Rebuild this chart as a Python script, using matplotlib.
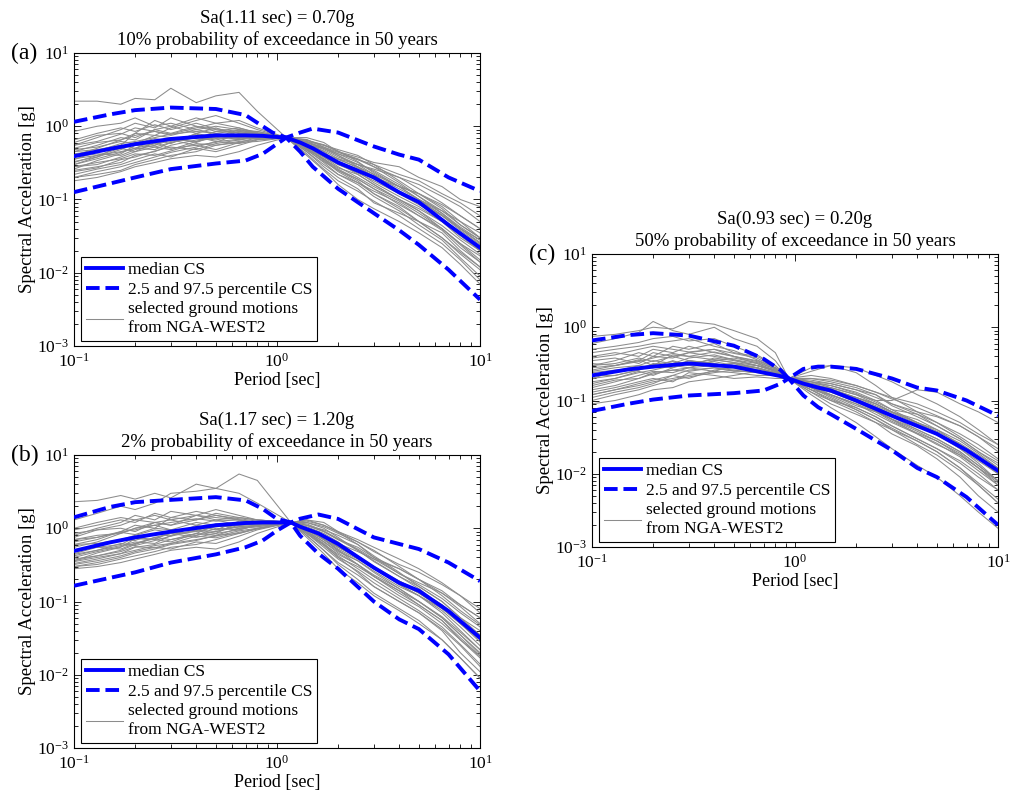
import numpy as np
import matplotlib
matplotlib.use("Agg")
import matplotlib.pyplot as plt
from matplotlib.ticker import LogLocator, NullFormatter

plt.rcParams['font.family'] = ['Liberation Serif', 'DejaVu Serif']
plt.rcParams['mathtext.fontset'] = 'custom'
plt.rcParams['mathtext.rm'] = 'Liberation Serif'
plt.rcParams['mathtext.it'] = 'Liberation Serif:italic'

# ---------------- panel (a) ----------------
per_a = [0.1, 0.13, 0.17, 0.2, 0.25, 0.3, 0.4, 0.5, 0.65, 0.8, 1.11,
         1.4, 1.7, 2, 2.5, 3, 4, 5, 6.5, 8, 10]
cs_T_a = [0.1, 0.15, 0.2, 0.3, 0.5, 0.7, 0.85, 0.95, 1.11, 1.3, 1.5, 2, 3, 4, 5, 7, 10]
med_a = [0.39, 0.49, 0.57, 0.67, 0.75, 0.75, 0.74, 0.72, 0.70, 0.6, 0.5, 0.32, 0.2, 0.125, 0.092, 0.045, 0.022]
hi_a = [1.15, 1.45, 1.66, 1.8, 1.72, 1.42, 1.0, 0.82, 0.70, 0.82, 0.93, 0.82, 0.53, 0.41, 0.35, 0.2, 0.13]
lo_a = [0.126, 0.165, 0.2, 0.26, 0.31, 0.34, 0.42, 0.52, 0.70, 0.45, 0.28, 0.14, 0.065, 0.038, 0.024, 0.011, 0.0043]
gm_a = [
    [2.2, 2.2, 2.0, 2.4, 2.3, 3.3, 2.1, 2.6, 2.9, 1.6, 0.70, 0.62, 0.50, 0.40, 0.30, 0.22, 0.15, 0.10, 0.07, 0.05, 0.03],
    [0.30, 0.38, 0.55, 0.80, 1.2, 1.0, 1.3, 1.1, 1.2, 0.95, 0.70, 0.60, 0.50, 0.42, 0.35, 0.30, 0.22, 0.18, 0.12, 0.09, 0.06],
    [0.25, 0.28, 0.32, 0.40, 0.45, 0.55, 0.65, 0.70, 0.85, 0.80, 0.70, 0.50, 0.35, 0.25, 0.18, 0.12, 0.08, 0.05, 0.03, 0.018, 0.011],
    [0.45, 0.55, 0.70, 0.65, 0.90, 0.80, 1.0, 0.90, 0.80, 0.85, 0.70, 0.65, 0.55, 0.45, 0.38, 0.32, 0.28, 0.20, 0.15, 0.10, 0.08],
    [0.20, 0.22, 0.25, 0.30, 0.35, 0.40, 0.45, 0.55, 0.60, 0.70, 0.70, 0.45, 0.28, 0.20, 0.14, 0.09, 0.065, 0.05, 0.035, 0.02, 0.012],
    [0.55, 0.70, 0.90, 1.1, 0.95, 1.3, 1.0, 0.85, 0.95, 0.80, 0.70, 0.58, 0.45, 0.32, 0.22, 0.16, 0.10, 0.07, 0.04, 0.025, 0.015],
    [0.35, 0.45, 0.50, 0.60, 0.55, 0.70, 0.60, 0.75, 0.65, 0.75, 0.70, 0.52, 0.40, 0.35, 0.28, 0.20, 0.15, 0.12, 0.08, 0.05, 0.035],
    [0.28, 0.30, 0.38, 0.45, 0.60, 0.50, 0.55, 0.48, 0.60, 0.62, 0.70, 0.60, 0.48, 0.38, 0.30, 0.25, 0.16, 0.11, 0.065, 0.04, 0.025],
    [0.40, 0.50, 0.65, 0.80, 0.75, 0.95, 1.2, 1.4, 1.1, 0.90, 0.70, 0.48, 0.32, 0.22, 0.16, 0.11, 0.07, 0.045, 0.028, 0.016, 0.009],
    [0.22, 0.26, 0.30, 0.35, 0.42, 0.38, 0.50, 0.45, 0.55, 0.65, 0.70, 0.55, 0.42, 0.36, 0.30, 0.26, 0.20, 0.14, 0.09, 0.06, 0.04],
    [0.50, 0.60, 0.65, 0.75, 0.85, 0.75, 0.90, 0.80, 0.70, 0.75, 0.70, 0.40, 0.25, 0.16, 0.10, 0.075, 0.05, 0.035, 0.022, 0.013, 0.007],
    [0.32, 0.40, 0.45, 0.50, 0.48, 0.60, 0.70, 0.65, 0.75, 0.72, 0.70, 0.62, 0.55, 0.48, 0.40, 0.30, 0.18, 0.12, 0.075, 0.045, 0.03],
    [0.85, 1.0, 1.1, 1.3, 1.0, 1.1, 0.90, 1.0, 0.90, 0.80, 0.70, 0.50, 0.38, 0.28, 0.20, 0.15, 0.10, 0.075, 0.05, 0.03, 0.02],
    [0.18, 0.20, 0.24, 0.28, 0.32, 0.36, 0.40, 0.38, 0.45, 0.55, 0.70, 0.70, 0.60, 0.45, 0.35, 0.28, 0.20, 0.16, 0.11, 0.08, 0.05],
    [0.38, 0.42, 0.40, 0.48, 0.55, 0.65, 0.55, 0.60, 0.80, 0.78, 0.70, 0.45, 0.30, 0.22, 0.17, 0.13, 0.09, 0.06, 0.04, 0.025, 0.017],
    [0.60, 0.75, 0.80, 0.70, 0.90, 1.0, 0.80, 0.95, 0.75, 0.72, 0.70, 0.55, 0.50, 0.40, 0.28, 0.22, 0.12, 0.085, 0.055, 0.035, 0.02],
    [0.26, 0.34, 0.42, 0.55, 0.52, 0.48, 0.62, 0.75, 0.70, 0.68, 0.70, 0.52, 0.38, 0.30, 0.24, 0.17, 0.11, 0.08, 0.05, 0.032, 0.02],
    [0.45, 0.48, 0.55, 0.50, 0.65, 0.58, 0.80, 0.70, 0.90, 0.85, 0.70, 0.48, 0.36, 0.26, 0.19, 0.14, 0.085, 0.06, 0.038, 0.022, 0.014],
    [0.30, 0.36, 0.44, 0.50, 0.58, 0.66, 0.62, 0.70, 0.68, 0.72, 0.70, 0.58, 0.46, 0.36, 0.27, 0.21, 0.14, 0.10, 0.065, 0.042, 0.028],
    [0.42, 0.46, 0.58, 0.62, 0.70, 0.78, 0.85, 0.80, 0.88, 0.80, 0.70, 0.50, 0.34, 0.24, 0.17, 0.12, 0.075, 0.05, 0.03, 0.019, 0.012],
    [0.24, 0.27, 0.35, 0.38, 0.46, 0.52, 0.48, 0.58, 0.65, 0.70, 0.70, 0.66, 0.52, 0.42, 0.32, 0.24, 0.15, 0.10, 0.06, 0.038, 0.024],
    [0.55, 0.62, 0.78, 0.95, 0.85, 0.78, 0.95, 1.1, 0.95, 0.82, 0.70, 0.54, 0.42, 0.33, 0.26, 0.19, 0.13, 0.095, 0.062, 0.04, 0.026],
    [0.33, 0.38, 0.48, 0.58, 0.68, 0.62, 0.78, 0.68, 0.72, 0.70, 0.70, 0.42, 0.26, 0.18, 0.13, 0.095, 0.06, 0.04, 0.025, 0.015, 0.008],
    [0.20, 0.24, 0.28, 0.32, 0.38, 0.44, 0.52, 0.62, 0.58, 0.66, 0.70, 0.60, 0.52, 0.44, 0.36, 0.28, 0.17, 0.11, 0.07, 0.045, 0.03],
    [0.48, 0.52, 0.62, 0.58, 0.75, 0.70, 0.68, 0.85, 0.82, 0.76, 0.70, 0.56, 0.40, 0.30, 0.23, 0.18, 0.12, 0.09, 0.06, 0.04, 0.028],
    [0.36, 0.40, 0.50, 0.45, 0.52, 0.60, 0.72, 0.62, 0.66, 0.74, 0.70, 0.50, 0.36, 0.27, 0.22, 0.16, 0.10, 0.07, 0.044, 0.028, 0.018],
    [0.65, 0.80, 0.95, 0.85, 1.05, 0.90, 1.1, 0.92, 0.85, 0.78, 0.70, 0.47, 0.33, 0.25, 0.19, 0.14, 0.095, 0.065, 0.04, 0.024, 0.014],
    [0.28, 0.32, 0.36, 0.42, 0.40, 0.46, 0.58, 0.55, 0.62, 0.66, 0.70, 0.64, 0.56, 0.46, 0.33, 0.23, 0.15, 0.12, 0.085, 0.06, 0.04],
]

# ---------------- panel (b) ----------------
per_b = [0.1, 0.13, 0.17, 0.2, 0.25, 0.3, 0.4, 0.5, 0.65, 0.8, 1.17,
         1.4, 1.7, 2, 2.5, 3, 4, 5, 6.5, 8, 10]
cs_T_b = [0.1, 0.15, 0.2, 0.3, 0.5, 0.7, 0.85, 1.0, 1.17, 1.3, 1.6, 2, 3, 4, 5, 7, 10]
med_b = [0.49, 0.64, 0.75, 0.9, 1.1, 1.18, 1.2, 1.2, 1.2, 1.05, 0.85, 0.61, 0.29, 0.18, 0.14, 0.074, 0.032]
hi_b = [1.41, 1.95, 2.27, 2.44, 2.66, 2.4, 1.84, 1.34, 1.2, 1.35, 1.54, 1.34, 0.75, 0.61, 0.52, 0.34, 0.19]
lo_b = [0.164, 0.21, 0.25, 0.34, 0.44, 0.55, 0.68, 0.93, 1.2, 0.79, 0.45, 0.28, 0.10, 0.057, 0.042, 0.019, 0.006]
gm_b = [
    [2.3, 2.4, 2.8, 2.5, 3.0, 2.6, 4.0, 3.5, 5.5, 4.5, 1.2, 1.1, 0.9, 0.7, 0.5, 0.35, 0.22, 0.16, 0.10, 0.06, 0.035],
    [1.3, 1.6, 2.0, 1.8, 2.2, 3.0, 3.2, 3.5, 3.0, 2.2, 1.2, 1.0, 0.75, 0.55, 0.40, 0.28, 0.17, 0.12, 0.07, 0.04, 0.022],
    [0.35, 0.40, 0.45, 0.55, 0.60, 0.70, 0.80, 0.90, 1.1, 1.2, 1.2, 0.90, 0.60, 0.40, 0.25, 0.16, 0.10, 0.07, 0.04, 0.02, 0.011],
    [0.60, 0.70, 0.90, 1.1, 1.0, 1.4, 1.3, 1.6, 1.4, 1.3, 1.2, 1.3, 1.1, 0.90, 0.70, 0.55, 0.38, 0.28, 0.18, 0.12, 0.08],
    [0.30, 0.32, 0.38, 0.42, 0.48, 0.55, 0.60, 0.70, 0.85, 1.0, 1.2, 0.80, 0.50, 0.32, 0.20, 0.13, 0.08, 0.055, 0.03, 0.017, 0.009],
    [0.80, 1.0, 1.2, 1.5, 1.3, 1.7, 1.5, 1.3, 1.4, 1.3, 1.2, 1.0, 0.70, 0.50, 0.32, 0.22, 0.14, 0.10, 0.06, 0.035, 0.02],
    [0.45, 0.55, 0.60, 0.75, 0.70, 0.90, 0.80, 1.0, 0.95, 1.1, 1.2, 1.1, 0.90, 0.70, 0.55, 0.40, 0.28, 0.20, 0.14, 0.09, 0.06],
    [0.38, 0.42, 0.50, 0.60, 0.75, 0.70, 0.85, 0.80, 1.0, 1.05, 1.2, 1.2, 1.0, 0.75, 0.50, 0.36, 0.22, 0.15, 0.085, 0.05, 0.028],
    [0.55, 0.65, 0.85, 1.0, 1.2, 1.1, 1.5, 1.8, 1.5, 1.3, 1.2, 0.85, 0.55, 0.38, 0.26, 0.18, 0.11, 0.075, 0.045, 0.026, 0.014],
    [0.32, 0.36, 0.42, 0.48, 0.55, 0.52, 0.65, 0.62, 0.78, 0.95, 1.2, 1.0, 0.80, 0.62, 0.48, 0.38, 0.28, 0.20, 0.13, 0.085, 0.05],
    [0.70, 0.80, 0.85, 1.0, 1.1, 0.95, 1.2, 1.1, 1.0, 1.1, 1.2, 0.75, 0.45, 0.28, 0.18, 0.12, 0.075, 0.05, 0.03, 0.017, 0.009],
    [0.42, 0.50, 0.58, 0.65, 0.62, 0.80, 0.95, 0.90, 1.05, 1.1, 1.2, 1.1, 0.95, 0.80, 0.60, 0.42, 0.25, 0.16, 0.10, 0.06, 0.04],
    [0.95, 1.1, 1.3, 1.2, 1.6, 1.4, 1.7, 1.5, 1.3, 1.2, 1.2, 0.95, 0.70, 0.50, 0.36, 0.26, 0.16, 0.12, 0.08, 0.05, 0.03],
    [0.28, 0.30, 0.34, 0.38, 0.44, 0.50, 0.55, 0.52, 0.65, 0.85, 1.2, 1.3, 1.2, 0.90, 0.65, 0.48, 0.32, 0.25, 0.17, 0.12, 0.07],
    [0.50, 0.55, 0.52, 0.62, 0.72, 0.85, 0.75, 0.85, 1.2, 1.15, 1.2, 0.85, 0.58, 0.40, 0.30, 0.22, 0.14, 0.09, 0.055, 0.03, 0.018],
    [0.75, 0.95, 1.0, 0.90, 1.2, 1.3, 1.1, 1.3, 1.1, 1.15, 1.2, 1.05, 0.85, 0.65, 0.42, 0.30, 0.17, 0.12, 0.075, 0.045, 0.025],
    [0.36, 0.46, 0.55, 0.72, 0.70, 0.65, 0.85, 1.1, 1.0, 1.05, 1.2, 0.95, 0.70, 0.55, 0.40, 0.28, 0.18, 0.13, 0.08, 0.05, 0.03],
    [0.60, 0.62, 0.70, 0.68, 0.85, 0.78, 1.1, 0.95, 1.25, 1.2, 1.2, 0.90, 0.65, 0.46, 0.32, 0.22, 0.13, 0.09, 0.055, 0.032, 0.018],
    [0.40, 0.48, 0.56, 0.62, 0.75, 0.85, 0.90, 1.05, 1.1, 1.15, 1.2, 1.0, 0.78, 0.56, 0.40, 0.30, 0.19, 0.14, 0.09, 0.055, 0.033],
    [0.65, 0.75, 0.90, 0.95, 1.1, 1.2, 1.35, 1.25, 1.3, 1.2, 1.2, 0.88, 0.62, 0.42, 0.28, 0.20, 0.12, 0.085, 0.05, 0.03, 0.017],
    [0.33, 0.38, 0.45, 0.50, 0.58, 0.62, 0.70, 0.78, 0.92, 1.0, 1.2, 1.15, 0.92, 0.72, 0.52, 0.38, 0.24, 0.17, 0.11, 0.07, 0.045],
    [0.85, 0.95, 1.1, 1.3, 1.2, 1.1, 1.3, 1.5, 1.35, 1.25, 1.2, 0.98, 0.76, 0.56, 0.40, 0.29, 0.19, 0.14, 0.09, 0.056, 0.034],
    [0.48, 0.58, 0.70, 0.80, 0.95, 0.88, 1.05, 0.95, 1.05, 1.1, 1.2, 0.80, 0.50, 0.34, 0.23, 0.16, 0.10, 0.07, 0.042, 0.025, 0.013],
    [0.30, 0.34, 0.40, 0.46, 0.52, 0.60, 0.68, 0.80, 0.85, 0.98, 1.2, 1.2, 1.05, 0.85, 0.65, 0.50, 0.30, 0.20, 0.12, 0.075, 0.048],
    [0.70, 0.75, 0.88, 0.82, 1.0, 0.95, 0.92, 1.15, 1.1, 1.15, 1.2, 0.95, 0.72, 0.52, 0.38, 0.28, 0.18, 0.13, 0.085, 0.055, 0.035],
    [0.44, 0.50, 0.62, 0.58, 0.68, 0.78, 0.92, 0.85, 0.95, 1.1, 1.2, 0.92, 0.66, 0.48, 0.36, 0.25, 0.15, 0.10, 0.062, 0.038, 0.022],
    [1.0, 1.2, 1.4, 1.3, 1.5, 1.3, 1.5, 1.4, 1.3, 1.2, 1.2, 0.85, 0.60, 0.44, 0.32, 0.23, 0.15, 0.10, 0.06, 0.035, 0.019],
    [0.36, 0.42, 0.48, 0.56, 0.54, 0.62, 0.78, 0.74, 0.88, 0.98, 1.2, 1.25, 1.1, 0.88, 0.60, 0.40, 0.24, 0.18, 0.13, 0.09, 0.06],
]

# ---------------- panel (c) ----------------
per_c = [0.1, 0.13, 0.17, 0.2, 0.25, 0.3, 0.4, 0.5, 0.65, 0.8, 0.93,
         1.2, 1.5, 2, 2.5, 3, 4, 5, 6.5, 8, 10]
cs_T_c = [0.1, 0.15, 0.2, 0.3, 0.5, 0.7, 0.85, 0.93, 1.1, 1.3, 1.5, 2, 3, 4, 5, 7, 10]
med_c = [0.22, 0.265, 0.29, 0.32, 0.29, 0.24, 0.215, 0.20, 0.17, 0.15, 0.137, 0.10, 0.062, 0.045, 0.035, 0.021, 0.011]
hi_c = [0.66, 0.78, 0.83, 0.77, 0.56, 0.37, 0.26, 0.20, 0.27, 0.29, 0.29, 0.27, 0.2, 0.15, 0.137, 0.1, 0.062]
lo_c = [0.072, 0.09, 0.103, 0.117, 0.126, 0.137, 0.17, 0.20, 0.117, 0.081, 0.065, 0.041, 0.021, 0.012, 0.009, 0.0048, 0.0020]
gm_c = [
    [0.75, 0.80, 0.90, 1.0, 0.95, 1.2, 1.1, 0.90, 0.70, 0.45, 0.20, 0.25, 0.30, 0.28, 0.22, 0.18, 0.12, 0.09, 0.06, 0.04, 0.025],
    [0.60, 0.70, 0.85, 1.2, 0.90, 0.80, 1.0, 0.70, 0.55, 0.35, 0.20, 0.18, 0.15, 0.12, 0.10, 0.10, 0.14, 0.13, 0.09, 0.07, 0.05],
    [0.12, 0.14, 0.16, 0.18, 0.20, 0.22, 0.25, 0.24, 0.22, 0.22, 0.20, 0.12, 0.08, 0.05, 0.032, 0.022, 0.013, 0.009, 0.005, 0.003, 0.0018],
    [0.30, 0.35, 0.45, 0.40, 0.55, 0.50, 0.60, 0.45, 0.40, 0.30, 0.20, 0.20, 0.18, 0.15, 0.12, 0.085, 0.06, 0.045, 0.03, 0.02, 0.014],
    [0.09, 0.10, 0.12, 0.14, 0.15, 0.18, 0.20, 0.22, 0.25, 0.24, 0.20, 0.28, 0.30, 0.24, 0.16, 0.11, 0.07, 0.05, 0.032, 0.022, 0.015],
    [0.40, 0.45, 0.40, 0.50, 0.45, 0.55, 0.45, 0.40, 0.32, 0.25, 0.20, 0.15, 0.11, 0.075, 0.055, 0.040, 0.028, 0.020, 0.012, 0.007, 0.004],
    [0.20, 0.25, 0.30, 0.28, 0.35, 0.30, 0.38, 0.35, 0.30, 0.26, 0.20, 0.17, 0.14, 0.11, 0.09, 0.07, 0.05, 0.04, 0.028, 0.019, 0.012],
    [0.15, 0.18, 0.22, 0.25, 0.24, 0.28, 0.25, 0.30, 0.28, 0.24, 0.20, 0.14, 0.12, 0.09, 0.065, 0.05, 0.035, 0.025, 0.018, 0.012, 0.007],
    [0.28, 0.30, 0.35, 0.45, 0.40, 0.35, 0.32, 0.28, 0.25, 0.22, 0.20, 0.22, 0.20, 0.16, 0.13, 0.11, 0.09, 0.07, 0.05, 0.035, 0.025],
    [0.11, 0.13, 0.15, 0.17, 0.22, 0.20, 0.26, 0.28, 0.30, 0.25, 0.20, 0.13, 0.09, 0.065, 0.05, 0.035, 0.024, 0.016, 0.009, 0.005, 0.003],
    [0.35, 0.38, 0.32, 0.40, 0.38, 0.45, 0.50, 0.40, 0.35, 0.28, 0.20, 0.16, 0.12, 0.085, 0.07, 0.055, 0.035, 0.026, 0.017, 0.011, 0.007],
    [0.18, 0.20, 0.25, 0.22, 0.28, 0.35, 0.30, 0.32, 0.26, 0.22, 0.20, 0.18, 0.16, 0.13, 0.10, 0.075, 0.065, 0.045, 0.03, 0.02, 0.013],
    [0.25, 0.28, 0.30, 0.35, 0.32, 0.38, 0.42, 0.36, 0.30, 0.26, 0.20, 0.15, 0.13, 0.10, 0.08, 0.06, 0.04, 0.03, 0.02, 0.013, 0.008],
    [0.13, 0.15, 0.18, 0.20, 0.18, 0.24, 0.22, 0.20, 0.21, 0.20, 0.20, 0.19, 0.17, 0.14, 0.12, 0.09, 0.07, 0.06, 0.045, 0.032, 0.02],
    [0.22, 0.22, 0.26, 0.32, 0.30, 0.28, 0.35, 0.38, 0.33, 0.27, 0.20, 0.14, 0.10, 0.07, 0.05, 0.04, 0.025, 0.018, 0.011, 0.007, 0.004],
    [0.45, 0.50, 0.55, 0.60, 0.65, 0.70, 0.55, 0.48, 0.36, 0.28, 0.20, 0.17, 0.14, 0.10, 0.075, 0.055, 0.038, 0.028, 0.018, 0.012, 0.008],
    [0.16, 0.19, 0.20, 0.24, 0.26, 0.25, 0.28, 0.26, 0.24, 0.22, 0.20, 0.16, 0.15, 0.12, 0.09, 0.07, 0.055, 0.04, 0.025, 0.017, 0.011],
    [0.32, 0.30, 0.36, 0.30, 0.42, 0.40, 0.36, 0.33, 0.28, 0.23, 0.20, 0.13, 0.10, 0.08, 0.06, 0.045, 0.03, 0.022, 0.015, 0.01, 0.006],
    [0.20, 0.22, 0.26, 0.30, 0.28, 0.32, 0.36, 0.33, 0.30, 0.25, 0.20, 0.16, 0.14, 0.105, 0.082, 0.065, 0.045, 0.034, 0.022, 0.015, 0.01],
    [0.26, 0.30, 0.34, 0.38, 0.44, 0.40, 0.46, 0.40, 0.34, 0.27, 0.20, 0.15, 0.115, 0.08, 0.06, 0.045, 0.03, 0.022, 0.014, 0.009, 0.006],
    [0.14, 0.16, 0.20, 0.23, 0.26, 0.28, 0.30, 0.32, 0.28, 0.24, 0.20, 0.18, 0.17, 0.14, 0.11, 0.09, 0.065, 0.05, 0.035, 0.025, 0.016],
    [0.38, 0.42, 0.50, 0.55, 0.50, 0.46, 0.50, 0.44, 0.38, 0.28, 0.20, 0.16, 0.13, 0.095, 0.072, 0.056, 0.04, 0.03, 0.02, 0.013, 0.008],
    [0.17, 0.20, 0.24, 0.26, 0.30, 0.35, 0.32, 0.28, 0.26, 0.23, 0.20, 0.14, 0.105, 0.075, 0.055, 0.042, 0.028, 0.02, 0.012, 0.0075, 0.0045],
    [0.10, 0.12, 0.14, 0.16, 0.19, 0.21, 0.24, 0.26, 0.27, 0.24, 0.20, 0.20, 0.19, 0.16, 0.13, 0.105, 0.08, 0.062, 0.045, 0.032, 0.022],
    [0.30, 0.32, 0.38, 0.34, 0.40, 0.45, 0.40, 0.36, 0.32, 0.26, 0.20, 0.17, 0.145, 0.11, 0.085, 0.068, 0.048, 0.036, 0.024, 0.016, 0.01],
    [0.24, 0.26, 0.28, 0.31, 0.34, 0.30, 0.34, 0.30, 0.28, 0.24, 0.20, 0.15, 0.12, 0.09, 0.07, 0.052, 0.036, 0.028, 0.019, 0.012, 0.0075],
    [0.50, 0.55, 0.62, 0.70, 0.75, 0.65, 0.70, 0.55, 0.42, 0.30, 0.20, 0.16, 0.14, 0.11, 0.09, 0.07, 0.05, 0.038, 0.026, 0.018, 0.012],
    [0.12, 0.14, 0.17, 0.19, 0.22, 0.26, 0.28, 0.25, 0.25, 0.23, 0.20, 0.17, 0.16, 0.125, 0.095, 0.075, 0.05, 0.036, 0.022, 0.014, 0.008],
]

titles = ["Sa(1.11 sec) = 0.70g\n10% probability of exceedance in 50 years",
          "Sa(1.17 sec) = 1.20g\n2% probability of exceedance in 50 years",
          "Sa(0.93 sec) = 0.20g\n50% probability of exceedance in 50 years"]
tags = ["(a)", "(b)", "(c)"]

fig = plt.figure(figsize=(10.12, 7.98), dpi=100)
W, H = 1012, 798
boxes = [(74, 53), (74, 455), (592, 254)]  # left, top in pixels
aw, ah = 406, 293

panels = [(per_a, gm_a, cs_T_a, med_a, hi_a, lo_a),
          (per_b, gm_b, cs_T_b, med_b, hi_b, lo_b),
          (per_c, gm_c, cs_T_c, med_c, hi_c, lo_c)]

for i, (per, gm, cT, med, hi, lo) in enumerate(panels):
    l, t = boxes[i]
    ax = fig.add_axes([l / W, 1 - (t + ah) / H, aw / W, ah / H])
    for k, rec in enumerate(gm):
        ax.plot(per, rec, color=(0.55, 0.55, 0.55), lw=0.75,
                label='selected ground motions\nfrom NGA-WEST2' if k == 0 else None, zorder=2)
    ax.plot(cT, med, color='blue', lw=2.8, label='median CS', zorder=3)
    ax.plot(cT, hi, color='blue', lw=2.8, ls=(0, (3.5, 1.5)),
            label='2.5 and 97.5 percentile CS', zorder=3)
    ax.plot(cT, lo, color='blue', lw=2.8, ls=(0, (3.5, 1.5)), zorder=3)
    ax.set_xscale('log')
    ax.set_yscale('log')
    ax.set_xlim(0.1, 10)
    ax.set_ylim(1e-3, 10)
    ax.yaxis.set_major_locator(LogLocator(base=10, numticks=10))
    ax.yaxis.set_minor_locator(LogLocator(base=10, subs=np.arange(2, 10), numticks=10))
    ax.xaxis.set_minor_locator(LogLocator(base=10, subs=np.arange(2, 10), numticks=10))
    ax.yaxis.set_minor_formatter(NullFormatter())
    ax.xaxis.set_minor_formatter(NullFormatter())
    ax.tick_params(which='both', direction='in', top=True, right=True, labelsize=12.5)
    ax.tick_params(axis='x', pad=5)
    ax.tick_params(which='major', length=5, width=0.6)
    ax.tick_params(which='minor', length=3, width=0.6)
    for s in ax.spines.values():
        s.set_linewidth(0.8)
    ax.set_xlabel('Period [sec]', fontsize=13, labelpad=1)
    ax.set_ylabel('Spectral Acceleration [g]', fontsize=13.5, labelpad=1)
    ax.set_title(titles[i], fontsize=13.5, pad=6, linespacing=1.3)
    fig.text((l - 63) / W, 1 - t / H, tags[i], fontsize=17, va='center', ha='left')
    hs, ls = ax.get_legend_handles_labels()
    order = [ls.index('median CS'), ls.index('2.5 and 97.5 percentile CS'),
             ls.index('selected ground motions\nfrom NGA-WEST2')]
    leg = ax.legend([hs[j] for j in order], [ls[j] for j in order],
                    loc='lower left', bbox_to_anchor=(0.017, 0.017), borderaxespad=0,
                    fontsize=12.5, fancybox=False, framealpha=1, edgecolor='black',
                    handlelength=2.1, handletextpad=0.3, labelspacing=0.2,
                    borderpad=0.3)
    leg.get_frame().set_linewidth(0.8)

fig.savefig('out.png', dpi=100)
